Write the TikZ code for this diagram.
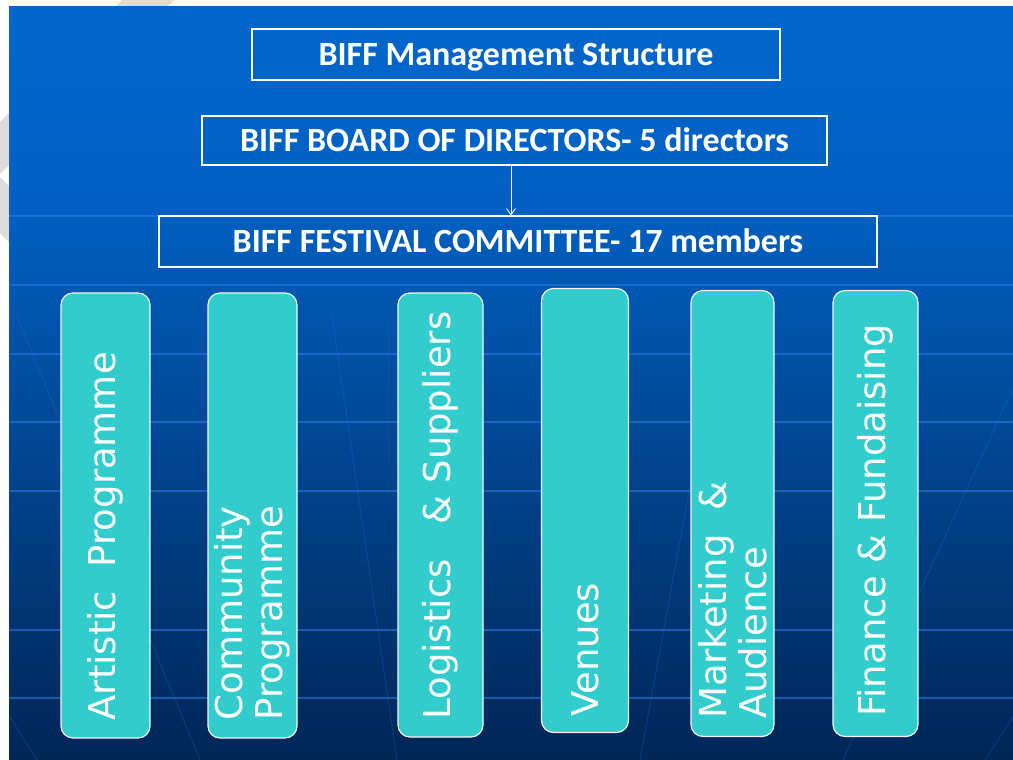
\documentclass[tikz,border=0pt]{standalone}
\usepackage{fontspec}
\newfontfamily\hdfont{Carlito}
\newfontfamily\bxfont{DejaVu Sans}
\usetikzlibrary{arrows.meta,calc}
\definecolor{bgtop}{HTML}{0066CC}
\definecolor{bgmid}{HTML}{0060C2}
\definecolor{bgbot}{HTML}{002656}
\definecolor{boxteal}{HTML}{33CCCC}
\definecolor{gridcol}{HTML}{2A80E8}
\definecolor{wmgrey}{HTML}{DCDCDC}
\tikzset{
  hdbox/.style={draw=white, line width=1.3pt, inner sep=0pt, text=white,
    text height=22pt, text depth=0pt,
    font=\hdfont\bfseries\fontsize{34}{40}\selectfont},
  dept/.style={draw=white!92!gray, line width=1.2pt, fill=boxteal,
    rounded corners=12pt, inner sep=0pt},
  depttext/.style={rotate=90, anchor=west, inner sep=0pt, text=white,
    align=left, font=\bxfont\fontsize{37}{40}\selectfont},
  hgrid/.style={gridcol, line width=1.5pt, opacity=0.55},
  mgrid/.style={gridcol, line width=1pt, opacity=0.22},
}
\begin{document}
\begin{tikzpicture}[x=1pt,y=-1pt]
\useasboundingbox (0,0) rectangle (1013,760);
% page and watermark remnants
\fill[white] (0,0) rectangle (1013,760);
\fill[wmgrey] (122,0) -- (174,0) -- (0,174) -- (0,122) -- cycle;
\fill[wmgrey] (0,177) -- (120,297) -- (120,353) -- (0,233) -- cycle;
% slide background
\shade[top color=bgtop, bottom color=bgmid] (9,7) rectangle (1013,200.5);
\shade[top color=bgmid, bottom color=bgbot] (9,200) rectangle (1013,760);
\begin{scope}
\clip (9,7) rectangle (1013,760);
\foreach \yy in {216,285,354,422,491,630,698}
  \draw[hgrid] (9,\yy) -- (1013,\yy);
\coordinate (vp) at (505,1500);
\foreach \xb in {37,200,397,640,843,985}
  \draw[mgrid] (vp) -- ($(vp)!1.6!(\xb,760)$);
\end{scope}
% header boxes
\node[hdbox, minimum width=528pt, minimum height=51pt] (title) at (516,54.5)
  {BIFF Management Structure};
\node[hdbox, minimum width=625pt, minimum height=49pt] (board) at (514.5,140.5)
  {BIFF BOARD OF DIRECTORS- 5 directors};
\node[hdbox, minimum width=718pt, minimum height=51pt] (committee) at (518,241.5)
  {BIFF FESTIVAL COMMITTEE- 17 members};
\coordinate (ax) at (511,0);
\draw[white, line width=0.9pt, -{Straight Barb[length=6pt,width=9pt]}]
  (board.south -| ax) -- (committee.north -| ax);
% department boxes
\node[dept, minimum width=89pt, minimum height=445pt] (d1) at (105.5,515.5) {};
\node[dept, minimum width=89pt, minimum height=445pt] (d2) at (252.5,515.5) {};
\node[dept, minimum width=85pt, minimum height=444pt] (d3) at (440.5,515) {};
\node[dept, minimum width=87pt, minimum height=444pt] (d4) at (585,510.5) {};
\node[dept, minimum width=83pt, minimum height=446pt] (d5) at (732.5,513.5) {};
\node[dept, minimum width=85pt, minimum height=446pt] (d6) at (875.5,513.5) {};
\node[depttext] (t1) at ([yshift=18pt]d1.south) {Artistic~~Programme};
\node[depttext] (t2) at ([yshift=18pt]d2.south) {Community\\Programme};
\node[depttext] (t3) at ([yshift=18pt]d3.south) {Logistics~~~\&~Suppliers};
\node[depttext] (t4) at ([yshift=16pt]d4.south) {Venues};
\node[depttext] (t5) at ([yshift=18pt]d5.south) {Marketing~~\&\\Audience};
\node[depttext] (t6) at ([yshift=20pt]d6.south) {Finance \& Fundaising};
\end{tikzpicture}
\end{document}
